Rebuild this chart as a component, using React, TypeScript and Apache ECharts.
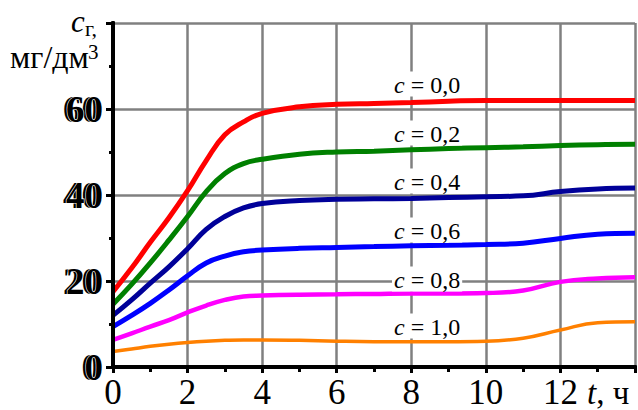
import React, { useEffect, useRef } from "react";
import * as echarts from "echarts";

const times = [0, 0.5, 1, 1.5, 2, 2.5, 3, 3.5, 4, 5, 6, 7, 8, 9, 10, 11, 12, 13, 14];
const c00 = [17.5, 23, 29, 34.7, 41, 48, 54, 57, 59, 60.5, 61.1, 61.3, 61.5, 61.8, 62, 62, 62, 62, 62];
const c02 = [14.6, 19.2, 24.2, 29.5, 35, 40.8, 45, 47.3, 48.3, 49.5, 50, 50.2, 50.5, 50.8, 51, 51.2, 51.5, 51.7, 51.8];
const c04 = [12, 15.6, 19.5, 23.3, 27.5, 32, 35, 37, 38, 38.7, 39, 39.1, 39.2, 39.4, 39.6, 39.8, 40.8, 41.4, 41.6];
const c06 = [9.4, 12, 14.8, 17.9, 21.2, 24.2, 25.8, 26.8, 27.2, 27.6, 27.8, 28, 28.2, 28.3, 28.5, 28.8, 29.9, 30.9, 31.1];
const c08 = [6.3, 7.8, 9.4, 10.9, 12.7, 14.3, 15.6, 16.4, 16.6, 16.8, 16.9, 17, 17.1, 17.1, 17.2, 17.8, 19.8, 20.6, 20.9];
const c10 = [3.6, 4.2, 4.8, 5.3, 5.7, 6, 6.2, 6.3, 6.3, 6.2, 6, 5.9, 5.9, 5.9, 6, 6.7, 8.6, 10.3, 10.5];

const seriesNames = ["0,0", "0,2", "0,4", "0,6", "0,8", "1,0"];
const seriesValues = [c00, c02, c04, c06, c08, c10];
const seriesColors = ["#ff0000", "#008000", "#000099", "#0000ff", "#ff00ff", "#ff8000"];
const seriesWidths = [5, 5, 5, 5, 4.5, 3.5];
const labelY = [84, 133, 181, 230, 279, 326];

const SERIF = "Liberation Serif";

export default function App() {
  const ref = useRef<HTMLDivElement>(null);
  useEffect(() => {
    if (!ref.current) return;
    const chart = echarts.init(ref.current, null, { renderer: "svg" });
    const yLabelFmt = (v: number) => (v === 80 ? "" : String(v));
    const yLabelBase = {
      fontFamily: SERIF,
      fontSize: 37,
      fontWeight: "bold" as const,
      color: "#000",
      margin: 10,
      formatter: yLabelFmt,
    };
    const gridLine = { show: true, lineStyle: { color: "#808080", width: 2.5 } };
    const blackLine = { show: true, lineStyle: { color: "#000", width: 4 } };
    const txt = (text: string, x: number, y: number, size: number, italic = false) => ({
      type: "text",
      x,
      y,
      z: 10,
      style: {
        text,
        fontFamily: SERIF,
        fontSize: size,
        fontStyle: italic ? "italic" : "normal",
        fill: "#000",
        textVerticalAlign: "middle",
      },
    });
    const option: any = {
      animation: false,
      backgroundColor: "#fff",
      grid: { left: 113, right: 3, top: 23, bottom: 43 },
      xAxis: [
        {
          type: "value",
          min: 0,
          max: 14,
          interval: 2,
          position: "bottom",
          z: 1,
          axisLine: blackLine,
          axisTick: { show: true, inside: false, length: 6, lineStyle: { color: "#000", width: 3 } },
          minorTick: { show: true, splitNumber: 2, length: 5, lineStyle: { color: "#000", width: 3 } },
          splitLine: gridLine,
          axisLabel: {
            fontFamily: SERIF,
            fontSize: 35,
            color: "#000",
            margin: 8,
            formatter: (v: number) => (v === 14 ? "" : String(v)),
          },
        },
        {
          type: "value", min: 0, max: 14, interval: 2, position: "top", z: 3,
          axisLine: blackLine, axisTick: { show: false }, axisLabel: { show: false }, splitLine: { show: false },
        },
        {
          type: "value", min: 0, max: 14, interval: 2, position: "bottom", z: 3,
          axisLine: blackLine, axisTick: { show: false }, axisLabel: { show: false }, splitLine: { show: false },
        },
      ],
      yAxis: [
        {
          type: "value",
          min: 0,
          max: 80,
          interval: 20,
          position: "left",
          z: 1,
          axisLine: blackLine,
          axisTick: { show: true, inside: false, length: 7, lineStyle: { color: "#000", width: 3 } },
          minorTick: { show: true, splitNumber: 2, length: 4, lineStyle: { color: "#000", width: 3 } },
          splitLine: gridLine,
          axisLabel: { ...yLabelBase, textBorderColor: "#fff", textBorderWidth: 1.2 },
        },
        {
          type: "value", min: 0, max: 80, interval: 20, position: "left", offset: 3, z: 0,
          axisLine: { show: false }, axisTick: { show: false }, splitLine: { show: false },
          axisLabel: { ...yLabelBase },
        },
        {
          type: "value", min: 0, max: 80, interval: 20, position: "right", z: 3,
          axisLine: blackLine, axisTick: { show: false }, axisLabel: { show: false }, splitLine: { show: false },
        },
        {
          type: "value", min: 0, max: 80, interval: 20, position: "left", z: 3,
          axisLine: blackLine, axisTick: { show: false }, axisLabel: { show: false }, splitLine: { show: false },
        },
      ],
      series: seriesValues.map((vals, i) => ({
        type: "line",
        name: seriesNames[i],
        xAxisIndex: 0,
        yAxisIndex: 0,
        z: 2,
        smooth: 0.45,
        showSymbol: false,
        symbol: "none",
        lineStyle: { color: seriesColors[i], width: seriesWidths[i] },
        data: times.map((t, j) => [t, vals[j]]),
      })),
      graphic: [
        ...seriesNames.map((n, i) => ({
          type: "text",
          x: 392,
          y: labelY[i],
          z: 10,
          style: {
            text: "{i|c} = " + n,
            fontFamily: SERIF,
            fontSize: 24,
            fill: "#000",
            textVerticalAlign: "middle",
            backgroundColor: "#fff",
            padding: [1, 2, 0, 2],
            rich: {
              i: { fontFamily: SERIF, fontSize: 24, fontStyle: "italic", fill: "#000" },
            },
          },
        })),
        txt("c", 71, 21, 31, true),
        txt("г,", 85, 28, 22),
        txt("мг/дм", 10, 57, 32),
        txt("3", 88, 52, 21),
        {
          type: "text", x: 587, y: 393, z: 10,
          style: {
            text: "{i|t}, ч",
            fontFamily: SERIF,
            fontSize: 33,
            fill: "#000",
            textVerticalAlign: "middle",
            rich: { i: { fontFamily: SERIF, fontSize: 33, fontStyle: "italic", fill: "#000" } },
          },
        },
      ],
    };
    chart.setOption(option);
    return () => chart.dispose();
  }, []);
  return (
    <div
      ref={ref}
      style={{ position: "fixed", left: 0, top: 0, width: 638, height: 410, background: "#fff" }}
    />
  );
}
